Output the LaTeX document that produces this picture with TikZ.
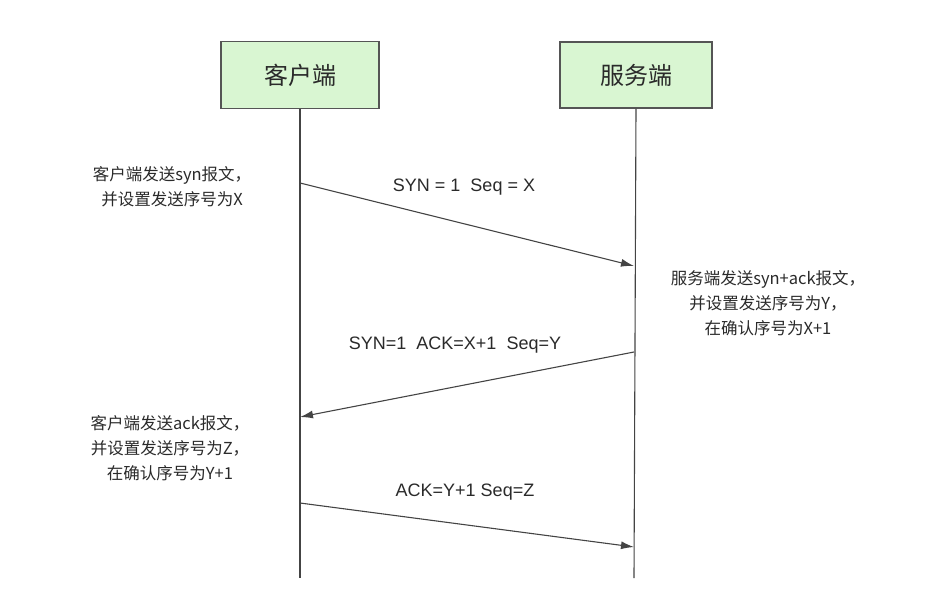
\documentclass[tikz,border=0pt]{standalone}
\usepackage{fontspec}
\setmainfont{Liberation Sans}
\newfontfamily\cjk{Noto Sans CJK SC}
\usetikzlibrary{arrows.meta}
\definecolor{boxfill}{HTML}{D9F6D2}
\definecolor{boxline}{HTML}{555555}
\definecolor{lineclr}{HTML}{444444}
\definecolor{txt}{HTML}{2A2A2A}
\begin{document}
\begin{tikzpicture}[x=1pt,y=-1pt,
  party/.style={draw=boxline,line width=1.3pt,fill=boxfill,inner sep=0pt,
    font=\cjk\fontsize{24}{28}\selectfont,text=txt},
  lifeline/.style={draw=lineclr,line width=1.1pt},
  msg/.style={draw=lineclr,line width=1.1pt,-{Latex[length=13pt,width=8pt]}},
  note/.style={align=center,inner sep=0pt,text=txt,font=\cjk\fontsize{16.5}{25}\selectfont},
  msglabel/.style={inner sep=0pt,text=txt,font=\fontsize{18}{22}\selectfont}]
\useasboundingbox (0,0) rectangle (927,589);
% parties
\node[party,minimum width=158pt,minimum height=67pt] (client) at (300,75) {客户端};
\node[party,minimum width=152pt,minimum height=66pt] (server) at (636,75) {服务端};
% lifeline ends
\coordinate (cend) at (300,578);
\coordinate (send) at (634,578);
\draw[lifeline] (client.south) -- (cend);
\draw[lifeline] (server.south) -- (send);
% message points
\coordinate (m1s) at (300,183);
\coordinate (m1e) at (634,266);
\coordinate (m2s) at (634,352);
\coordinate (m2e) at (300,417);
\coordinate (m3s) at (300,503);
\coordinate (m3e) at (634,547);
\draw[msg] (m1s) -- (m1e);
\draw[msg] (m2s) -- (m2e);
\draw[msg] (m3s) -- (m3e);
% message labels
\node[msglabel] (l1) at (464,187) {SYN = 1\ \ Seq = X};
\node[msglabel] (l2) at (455,345) {SYN=1\ \ ACK=X+1\ \ Seq=Y};
\node[msglabel] (l3) at (465,492) {ACK=Y+1 Seq=Z};
% notes
\node[note] (n1) at (172,187) {客户端发送syn报文，\\并设置发送序号为X};
\node[note] (n2) at (768,303) {服务端发送syn+ack报文，\\并设置发送序号为Y，\\在确认序号为X+1};
\node[note] (n3) at (170,448) {客户端发送ack报文，\\并设置发送序号为Z，\\在确认序号为Y+1};
\end{tikzpicture}
\end{document}
